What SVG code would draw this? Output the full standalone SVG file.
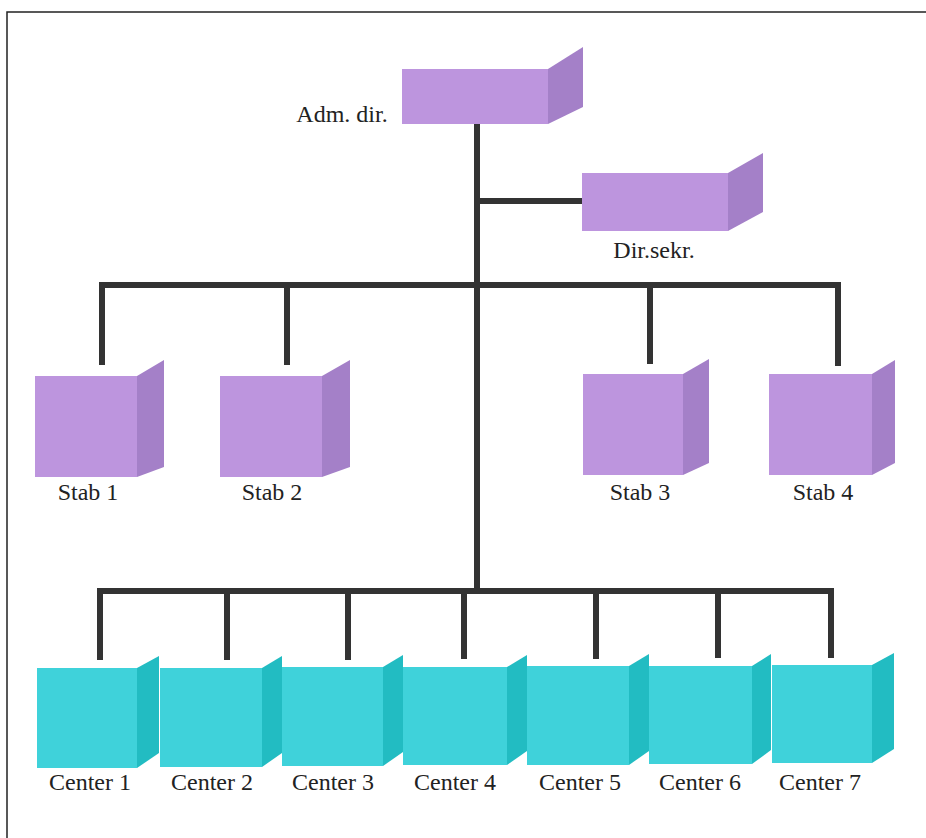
<svg xmlns="http://www.w3.org/2000/svg" width="926" height="838" viewBox="0 0 926 838">
<style>
.pf{fill:#bd95de}
.ps{fill:#a480c8}
.cf{fill:#3fd2da}
.cs{fill:#22bcc2}
.ln{stroke:#333;stroke-width:6;fill:none;stroke-linecap:butt}
.lb{font-family:"Liberation Serif","Times New Roman",serif;font-size:24px;fill:#222;text-anchor:middle}
.frame{stroke:#222;stroke-width:1.5;fill:none}
</style>
<rect width="926" height="838" fill="#fff"/>
<path class="frame" d="M7,838 V12 H926"/>
<g id="connectors">
<path class="ln" d="M477,124 V591"/>
<path class="ln" d="M477,201 H582"/>
<path class="ln" d="M102,365 V285 H838 V366"/>
<path class="ln" d="M287,285 V365"/>
<path class="ln" d="M650,285 V364"/>
<path class="ln" d="M100,660 V591 H831 V658"/>
<path class="ln" d="M227,591 V660"/>
<path class="ln" d="M348,591 V660"/>
<path class="ln" d="M464,591 V659"/>
<path class="ln" d="M596,591 V659"/>
<path class="ln" d="M718,591 V658"/>
</g>
<g id="adm">
<rect class="pf" x="402" y="69" width="146" height="55"/>
<polygon class="ps" points="548,69 583,47 583,107 548,124"/>
<text class="lb" x="342" y="122" font-size="24">Adm. dir.</text>
</g>
<g id="dirsekr">
<rect class="pf" x="582" y="173" width="146" height="58"/>
<polygon class="ps" points="728,173 763,153 763,212 728,231"/>
<text class="lb" x="654" y="258">Dir.sekr.</text>
</g>
<g id="stab1">
<rect class="pf" x="35" y="376" width="102" height="101"/>
<polygon class="ps" points="137,376 164,360 164,467 137,477"/>
<text class="lb" x="88" y="500">Stab 1</text>
</g>
<g id="stab2">
<rect class="pf" x="220" y="376" width="102" height="101"/>
<polygon class="ps" points="322,376 350,360 350,467 322,477"/>
<text class="lb" x="272" y="500">Stab 2</text>
</g>
<g id="stab3">
<rect class="pf" x="583" y="374" width="100" height="101"/>
<polygon class="ps" points="683,374 709,359 709,463 683,475"/>
<text class="lb" x="640" y="500">Stab 3</text>
</g>
<g id="stab4">
<rect class="pf" x="769" y="374" width="103" height="101"/>
<polygon class="ps" points="872,374 895,360 895,463 872,475"/>
<text class="lb" x="823" y="500">Stab 4</text>
</g>
<g id="center1">
<rect class="cf" x="37" y="668" width="100" height="100"/>
<polygon class="cs" points="137,668 159,656 159,753 137,768"/>
<text class="lb" x="90" y="790">Center 1</text>
</g>
<g id="center2">
<rect class="cf" x="160" y="668" width="102" height="99"/>
<polygon class="cs" points="262,668 282,656 282,753 262,767"/>
<text class="lb" x="212" y="790">Center 2</text>
</g>
<g id="center3">
<rect class="cf" x="282" y="667" width="101" height="99"/>
<polygon class="cs" points="383,667 403,655 403,752 383,766"/>
<text class="lb" x="333" y="790">Center 3</text>
</g>
<g id="center4">
<rect class="cf" x="403" y="667" width="104" height="98"/>
<polygon class="cs" points="507,667 527,655 527,751 507,765"/>
<text class="lb" x="455" y="790">Center 4</text>
</g>
<g id="center5">
<rect class="cf" x="527" y="666" width="102" height="99"/>
<polygon class="cs" points="629,666 649,654 649,751 629,765"/>
<text class="lb" x="580" y="790">Center 5</text>
</g>
<g id="center6">
<rect class="cf" x="649" y="666" width="103" height="98"/>
<polygon class="cs" points="752,666 771,654 771,750 752,764"/>
<text class="lb" x="700" y="790">Center 6</text>
</g>
<g id="center7">
<rect class="cf" x="772" y="665" width="100" height="98"/>
<polygon class="cs" points="872,665 894,653 894,749 872,763"/>
<text class="lb" x="820" y="790">Center 7</text>
</g>
</svg>
